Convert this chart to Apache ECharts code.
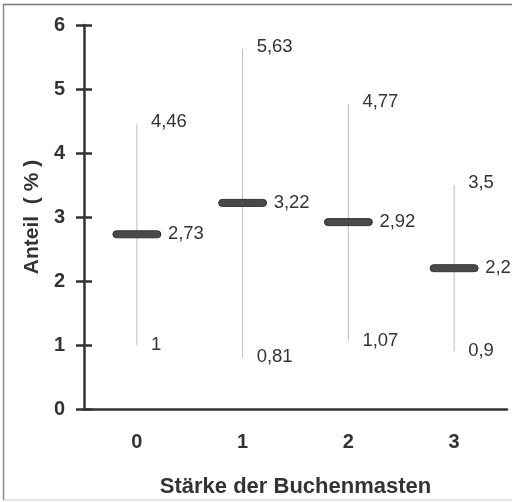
<!DOCTYPE html>
<html>
<head>
<meta charset="utf-8">
<script src="https://cdn.jsdelivr.net/npm/echarts@6/dist/echarts.min.js"></script>
<style>
  html, body { margin: 0; padding: 0; background: #fff; }
  #chart { width: 515px; height: 502px; }
</style>
</head>
<body>
<div id="chart"></div>
<script>
// Anteil (%) je Stärke der Buchenmast: Minimum, Mittelwert, Maximum
const categories = ['0', '1', '2', '3'];
const minValues = [1, 0.81, 1.07, 0.9];
const meanValues = [2.73, 3.22, 2.92, 2.2];
const maxValues = [4.46, 5.63, 4.77, 3.5];
const yTicks = [0, 1, 2, 3, 4, 5, 6];

const fmt = v => String(v).replace('.', ',');
const FONT = 'Liberation Sans, Arial, sans-serif';

const data = categories.map((c, i) => [i, minValues[i], meanValues[i], maxValues[i]]);

function renderItem(params, api) {
  const i = api.value(0);
  const pMin = api.coord([i, api.value(1)]);
  const pMean = api.coord([i, api.value(2)]);
  const pMax = api.coord([i, api.value(3)]);
  const barW = 48, barH = 7;
  const txt = (text, x, y) => ({
    type: 'text',
    style: { text, x, y, fill: '#333', font: '18.5px ' + FONT, textAlign: 'left', textVerticalAlign: 'middle' }
  });
  return {
    type: 'group',
    children: [
      { type: 'line', shape: { x1: pMin[0], y1: pMin[1], x2: pMax[0], y2: pMax[1] },
        style: { stroke: '#bdbdbd', lineWidth: 1 } },
      { type: 'rect', shape: { x: pMean[0] - barW / 2, y: pMean[1] - barH / 2, width: barW, height: barH, r: 3.5 },
        style: { fill: '#4a4a4a', stroke: '#333', lineWidth: 1 } },
      txt(fmt(api.value(3)), pMax[0] + 14, pMax[1] - 2),
      txt(fmt(api.value(1)), pMin[0] + 14, pMin[1]),
      txt(fmt(api.value(2)), pMean[0] + barW / 2 + 7, pMean[1])
    ]
  };
}

const chart = echarts.init(document.getElementById('chart'), null, { renderer: 'canvas' });
const axisColor = '#333';
chart.setOption({
  animation: false,
  backgroundColor: '#fff',
  grid: { left: 84, right: 8, top: 25, bottom: 93, containLabel: false, outerBoundsMode: 'none' },
  xAxis: [{
    type: 'category',
    data: categories,
    boundaryGap: true,
    name: 'Stärke der Buchenmasten',
    nameLocation: 'middle',
    nameGap: 67,
    nameTextStyle: { fontFamily: FONT, fontWeight: 'bold', fontSize: 22, color: '#333' },
    axisLine: { lineStyle: { color: axisColor, width: 2.5 } },
    axisTick: { alignWithLabel: false, length: 8, lineStyle: { color: axisColor, width: 2.5 } },
    axisLabel: { margin: 23, fontFamily: FONT, fontWeight: 'bold', fontSize: 20, color: '#333' }
  }, {
    // second x axis on the same line: ticks pointing upwards
    type: 'category',
    data: categories,
    position: 'bottom',
    boundaryGap: true,
    axisLine: { show: false },
    axisTick: { inside: true, length: 8, lineStyle: { color: axisColor, width: 2.5 } },
    axisLabel: { show: false }
  }],
  yAxis: [{
    type: 'value',
    min: 0, max: 6, interval: 1,
    name: 'Anteil  ( % )',
    nameLocation: 'middle',
    nameGap: 40,
    nameRotate: 90,
    nameTextStyle: { fontFamily: FONT, fontWeight: 'bold', fontSize: 21, color: '#333' },
    axisLine: { show: true, lineStyle: { color: axisColor, width: 2.5 } },
    axisTick: { show: true, length: 8, lineStyle: { color: axisColor, width: 2.5 } },
    axisLabel: { margin: 19, fontFamily: FONT, fontWeight: 'bold', fontSize: 20, color: '#333',
                 formatter: v => yTicks.includes(v) ? String(v) : '' },
    splitLine: { show: false }
  }, {
    // inward ticks on the same y axis line
    type: 'value',
    min: 0, max: 6, interval: 1,
    position: 'left',
    axisLine: { show: false },
    axisTick: { show: true, inside: true, length: 8, lineStyle: { color: axisColor, width: 2.5 } },
    axisLabel: { show: false },
    splitLine: { show: false }
  }],
  graphic: [
    { type: 'line', shape: { x1: 3, y1: 4.5, x2: 512, y2: 4.5 }, style: { stroke: '#777', lineWidth: 1.5 } },
    { type: 'line', shape: { x1: 3.5, y1: 4, x2: 3.5, y2: 500 }, style: { stroke: '#888', lineWidth: 1.5 } },
    { type: 'line', shape: { x1: 3, y1: 500, x2: 512, y2: 500 }, style: { stroke: '#ccc', lineWidth: 1 } }
  ],
  series: [{
    type: 'custom',
    renderItem,
    data,
    encode: { x: 0, y: [1, 2, 3] },
    clip: false,
    z: 3
  }]
});
</script>
</body>
</html>
